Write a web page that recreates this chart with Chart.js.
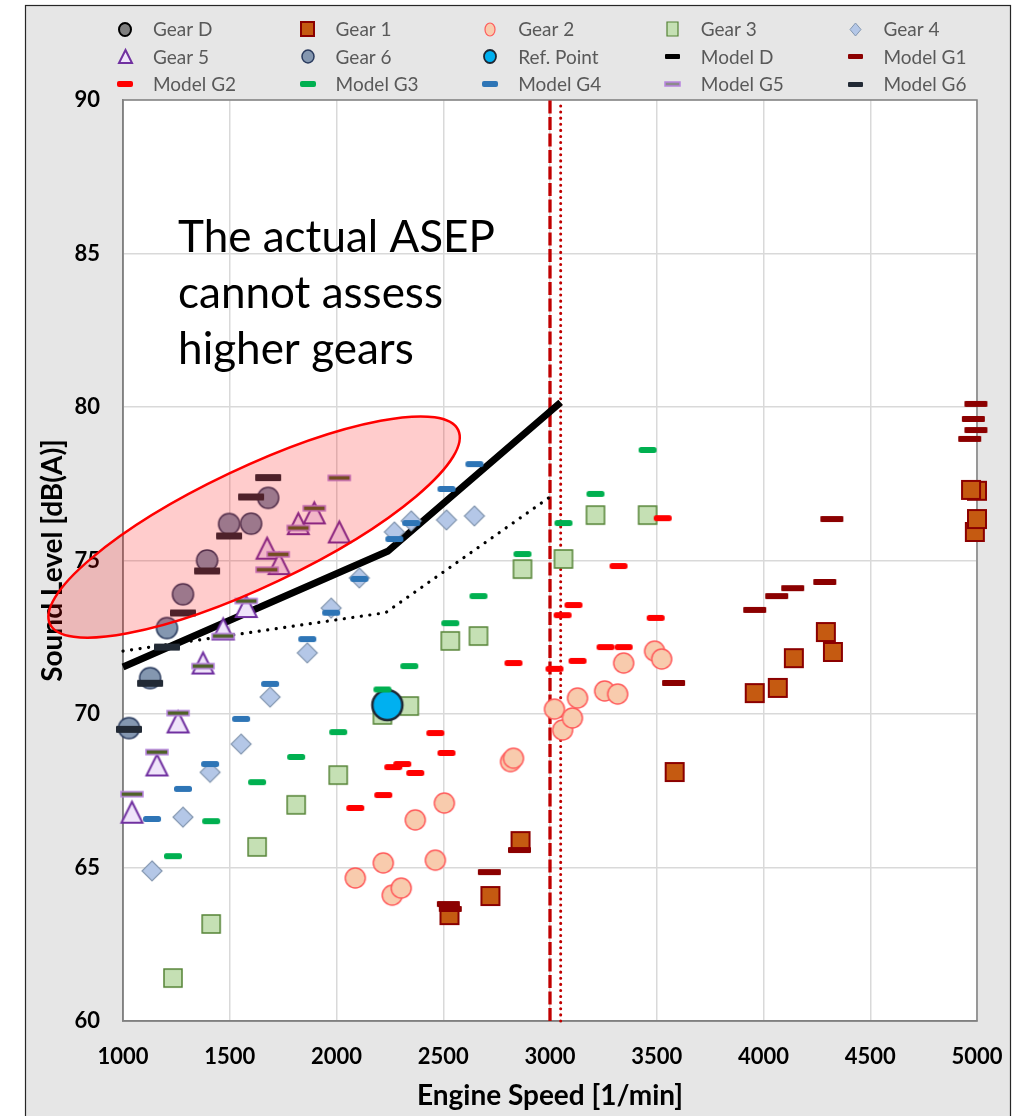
<!DOCTYPE html>
<html>
<head>
<meta charset="utf-8">
<script src="https://cdn.jsdelivr.net/npm/chart.js@4.4.1/dist/chart.umd.min.js"></script>
<style>
  html, body { margin: 0; padding: 0; background: #ffffff; }
  #wrap { width: 1017px; height: 1116px; }
</style>
</head>
<body>
<div id="wrap"><canvas id="chart" width="1017" height="1116"></canvas></div>
<script>
// ---------------- axis ranges ----------------
const rpmRange = [1000, 5000, 500];     // min, max, step
const levelRange = [60, 90, 5];

// ---------------- measured points [engine speed, sound level] ----------------
const gearD = [];
const gear1 = [[2529, 63.45], [2721, 64.07], [2862, 65.86], [3584, 68.11], [3959, 70.68], [4067, 70.85],
               [4142, 71.82], [4292, 72.67], [4325, 72.02], [5000, 77.27], [4972, 77.3], [4990, 75.93], [5000, 76.35]];
const gear2 = [[2088, 64.66], [2219, 65.15], [2261, 64.1], [2303, 64.33], [2369, 66.55], [2463, 65.24],
               [2505, 67.1], [2815, 68.45], [2829, 68.56], [3021, 70.16], [3059, 69.48], [3105, 69.87],
               [3129, 70.52], [3256, 70.75], [3317, 70.65], [3345, 71.66], [3490, 72.05], [3523, 71.79]];
const gear3 = [[1234, 61.4], [1413, 63.16], [1628, 65.67], [1811, 67.04], [2008, 68.01], [2215, 69.97],
               [2341, 70.26], [2533, 72.38], [2665, 72.54], [2871, 74.72], [3063, 75.05], [3213, 76.48], [3457, 76.48]];
const gear4 = [[1136, 64.89], [1281, 66.64], [1408, 68.1], [1553, 69.02], [1689, 70.55], [1863, 71.99],
               [1975, 73.45], [2107, 74.43], [2271, 75.93], [2350, 76.29], [2515, 76.32], [2646, 76.45]];
const gear5 = [[1042, 66.8], [1159, 68.34], [1258, 69.74], [1375, 71.66], [1469, 72.77], [1577, 73.5],
               [1675, 75.4], [1731, 74.9], [1821, 76.2], [1896, 76.55], [2013, 75.93]];
const gear6 = [[1028, 69.54], [1127, 71.17], [1206, 72.8], [1281, 73.9], [1394, 75.0], [1497, 76.19],
               [1600, 76.2], [1680, 77.04]];
const refPoint = [[2238, 70.29]];

// ---------------- model predictions [engine speed, sound level] ----------------
const modelD = [];
const modelG1 = [[2524, 63.81], [2533, 63.65], [2716, 64.85], [2857, 65.57], [3579, 71.01], [3959, 73.39],
                 [4062, 73.84], [4137, 74.1], [4287, 74.3], [4320, 76.35], [4995, 80.1], [4983, 79.61],
                 [4995, 79.25], [4966, 78.96]];
const modelG2 = [[2088, 66.94], [2219, 67.36], [2266, 68.27], [2308, 68.37], [2369, 68.08], [2463, 69.38],
                 [2515, 68.73], [2829, 71.66], [3021, 71.47], [3059, 73.22], [3110, 73.55], [3129, 71.73],
                 [3260, 72.18], [3345, 72.18], [3321, 74.82], [3495, 73.13], [3528, 76.38]];
const modelG3 = [[1234, 65.37], [1413, 66.51], [1628, 67.78], [1811, 68.6], [2008, 69.41], [2215, 70.8],
                 [2341, 71.56], [2533, 72.96], [2665, 73.84], [2871, 75.21], [3063, 76.22], [3213, 77.17], [3457, 78.6]];
const modelG4 = [[1136, 66.58], [1281, 67.56], [1408, 68.37], [1553, 69.84], [1689, 70.98], [1863, 72.44],
                 [1975, 73.3], [2107, 74.4], [2271, 75.7], [2350, 76.22], [2515, 77.33], [2646, 78.14]];
const modelG5 = [[1042, 67.39], [1159, 68.76], [1258, 70.03], [1375, 71.56], [1469, 72.54], [1577, 73.68],
                 [1675, 74.7], [1727, 75.2], [1821, 76.06], [1896, 76.7], [2013, 77.69]];
const modelG6 = [[1028, 69.5], [1127, 71.0], [1206, 72.18], [1281, 73.29], [1394, 74.66], [1497, 75.8],
                 [1600, 77.07], [1680, 77.7]];

// ---------------- limit curves ----------------
const upperLimit = [[1000, 71.53], [2240, 75.3], [3050, 80.15]];
const lowerLimit = [[1000, 72.05], [2230, 73.3], [3000, 77.07]];
const speedLimits = [3000, 3050];          // dashed, dotted

// ---------------- annotation ----------------
const noteLines = ['The actual ASEP', 'cannot assess', 'higher gears'];
const ellipseCentre = [1614, 76.09];

// ---------------- legend ----------------
const legendLabels = ['Gear D', 'Gear 1', 'Gear 2', 'Gear 3', 'Gear 4',
                      'Gear 5', 'Gear 6', 'Ref. Point', 'Model D', 'Model G1',
                      'Model G2', 'Model G3', 'Model G4', 'Model G5', 'Model G6'];

// ---------------- marker images ----------------
function marker(shape, w, h, fill, stroke, lw, radius) {
  const pad = Math.ceil(lw || 0) + 1;
  const c = document.createElement('canvas');
  c.width = Math.round(w + 2 * pad);
  c.height = Math.round(h + 2 * pad);
  const g = c.getContext('2d');
  const cx = c.width / 2, cy = c.height / 2;
  g.beginPath();
  if (shape === 'circle') {
    g.ellipse(cx, cy, w / 2, h / 2, 0, 0, Math.PI * 2);
  } else if (shape === 'square') {
    g.rect(cx - w / 2, cy - h / 2, w, h);
  } else if (shape === 'diamond') {
    g.moveTo(cx, cy - h / 2); g.lineTo(cx + w / 2, cy); g.lineTo(cx, cy + h / 2); g.lineTo(cx - w / 2, cy); g.closePath();
  } else if (shape === 'triangle') {
    g.moveTo(cx, cy - h / 2); g.lineTo(cx + w / 2, cy + h / 2); g.lineTo(cx - w / 2, cy + h / 2); g.closePath();
  } else if (shape === 'dash') {
    const r = radius || 0;
    g.roundRect(cx - w / 2, cy - h / 2, w, h, r);
  }
  if (fill) { g.fillStyle = fill; g.fill(); }
  if (stroke && lw) { g.lineWidth = lw; g.strokeStyle = stroke; g.lineJoin = 'miter'; g.stroke(); }
  return c;
}

const styles = {
  'Gear D':     { plot: marker('circle', 21, 21, '#7f7f7f', '#000000', 1.5),     key: marker('circle', 12, 13, '#7f7f7f', '#000000', 2) },
  'Gear 1':     { plot: marker('square', 18, 18, '#c55a11', '#8b0000', 2),       key: marker('square', 13, 14, '#c55a11', '#8b0000', 2) },
  'Gear 2':     { plot: marker('circle', 20, 20, '#f8cbad', '#ff5b5b', 1.5),     key: marker('circle', 10, 13, '#f8cbad', '#ff5b5b', 1.2) },
  'Gear 3':     { plot: marker('square', 18, 18, '#c5e0b4', '#548235', 1.5),     key: marker('square', 11, 14, '#c5e0b4', '#548235', 1.2) },
  'Gear 4':     { plot: marker('diamond', 20, 20, '#b4c7e7', '#8497b0', 1.2),    key: marker('diamond', 11, 13, '#b4c7e7', '#8497b0', 1) },
  'Gear 5':     { plot: marker('triangle', 21, 21, '#efe4fa', '#7030a0', 2),     key: marker('triangle', 13, 13, '#efe4fa', '#7030a0', 2) },
  'Gear 6':     { plot: marker('circle', 21, 21, '#8497b0', '#2a3b5e', 1.5),     key: marker('circle', 12, 13, '#8497b0', '#2a3b5e', 1.5) },
  'Ref. Point': { plot: marker('circle', 30, 30, '#00b0f0', '#1f2733', 2.5),     key: marker('circle', 12, 13, '#00b0f0', '#1f2733', 1.8) },
  'Model D':    { plot: marker('dash', 26, 7, '#000000', null, 0, 1),            key: marker('dash', 15, 5, '#000000', null, 0, 1) },
  'Model G1':   { plot: marker('dash', 23, 6, '#8b0000', null, 0, 1),            key: marker('dash', 15, 5, '#8b0000', null, 0, 1) },
  'Model G2':   { plot: marker('dash', 18, 6, '#ff0000', null, 0, 2.5),          key: marker('dash', 16, 6, '#ff0000', null, 0, 2) },
  'Model G3':   { plot: marker('dash', 18, 6, '#00b050', null, 0, 2.5),          key: marker('dash', 16, 6, '#00b050', null, 0, 2) },
  'Model G4':   { plot: marker('dash', 18, 6, '#2e75b6', null, 0, 2.5),          key: marker('dash', 16, 6, '#2e75b6', null, 0, 2) },
  'Model G5':   { plot: marker('dash', 22, 5, '#4f6228', '#b884e0', 1.5, 0),     key: marker('dash', 15, 4, '#8c8c8c', '#b884e0', 1.5, 0) },
  'Model G6':   { plot: marker('dash', 26, 7, '#222a35', null, 0, 1),            key: marker('dash', 15, 5, '#222a35', null, 0, 1) }
};

const toXY = arr => arr.map(p => ({ x: p[0], y: p[1] }));

function pointSet(label, pts, order) {
  return {
    label, data: toXY(pts), order, clip: false,
    showLine: false, pointStyle: styles[label].plot, pointRadius: 10, pointHoverRadius: 10
  };
}

function lineSet(label, pts, color, width, dash, cap, order) {
  return {
    label, data: toXY(pts), order, clip: false, showLine: true,
    borderColor: color, borderWidth: width, borderDash: dash, borderCapStyle: cap,
    borderJoinStyle: 'miter', pointRadius: 0, pointHoverRadius: 0, fill: false, tension: 0
  };
}

const datasets = [
  // model predictions on top
  pointSet('Model D', modelD, 1), pointSet('Model G1', modelG1, 1), pointSet('Model G2', modelG2, 1),
  pointSet('Model G3', modelG3, 1), pointSet('Model G4', modelG4, 1), pointSet('Model G5', modelG5, 1),
  pointSet('Model G6', modelG6, 1),
  pointSet('Ref. Point', refPoint, 3),
  pointSet('Gear D', gearD, 5), pointSet('Gear 1', gear1, 5), pointSet('Gear 2', gear2, 5),
  pointSet('Gear 3', gear3, 5), pointSet('Gear 4', gear4, 5), pointSet('Gear 5', gear5, 5),
  pointSet('Gear 6', gear6, 5),
  lineSet('limit', upperLimit, '#000000', 7, [], 'butt', 8),
  lineSet('limit lower', lowerLimit, '#000000', 3.2, [0.1, 8.5], 'round', 8),
  lineSet('speed limit', [[speedLimits[0], levelRange[0]], [speedLimits[0], levelRange[1]]], '#c00000', 3.3, [13, 3.5], 'butt', 9),
  lineSet('speed limit 2', [[speedLimits[1], levelRange[0]], [speedLimits[1], levelRange[1]]], '#c00000', 3, [0.1, 6], 'round', 9)
];

// ---------------- drawing helpers ----------------
const frame = { x: 25, y: 5, right: 1010 };

const backdrop = {
  id: 'backdrop',
  beforeDraw(chart) {
    const { ctx, width, height, chartArea: a } = chart;
    ctx.save();
    ctx.fillStyle = '#ffffff';
    ctx.fillRect(0, 0, width, height);
    ctx.fillStyle = '#e6e6e6';
    ctx.fillRect(frame.x, frame.y, frame.right - frame.x, height - frame.y + 2);
    ctx.strokeStyle = '#262626';
    ctx.lineWidth = 1.2;
    ctx.strokeRect(frame.x + 0.5, frame.y + 0.5, frame.right - frame.x, height);
    ctx.fillStyle = '#ffffff';
    ctx.fillRect(a.left, a.top, a.right - a.left, a.bottom - a.top);
    ctx.restore();
  },
  beforeDatasetsDraw(chart) {
    const { ctx, chartArea: a } = chart;
    ctx.save();
    ctx.strokeStyle = '#808080';
    ctx.lineWidth = 1.5;
    ctx.strokeRect(a.left, a.top, a.right - a.left, a.bottom - a.top);
    ctx.restore();
  }
};

const highlight = {
  id: 'highlight',
  afterDatasetsDraw(chart) {
    const { ctx, scales: { x, y } } = chart;
    const cx = x.getPixelForValue(ellipseCentre[0]);
    const cy = y.getPixelForValue(ellipseCentre[1]);
    ctx.save();
    ctx.beginPath();
    ctx.ellipse(cx, cy, 226, 59, -25.4 * Math.PI / 180, 0, Math.PI * 2);
    ctx.fillStyle = 'rgba(255, 0, 0, 0.2)';
    ctx.fill();
    ctx.lineWidth = 2.5;
    ctx.strokeStyle = '#ff0000';
    ctx.stroke();

    // note text
    ctx.fillStyle = '#000000';
    ctx.font = '44px Lato';
    ctx.textBaseline = 'alphabetic';
    ctx.textAlign = 'left';
    const tx = x.getPixelForValue(1258);
    const ty = y.getPixelForValue(85.05);
    noteLines.forEach((t, i) => ctx.fillText(t, tx, ty + i * 56));
    ctx.restore();
  }
};

const gridLegend = {
  id: 'gridLegend',
  afterDraw(chart) {
    const { ctx } = chart;
    ctx.save();
    ctx.font = '19px Lato';
    ctx.fillStyle = '#595959';
    ctx.textBaseline = 'middle';
    ctx.textAlign = 'left';
    legendLabels.forEach((label, i) => {
      const col = i % 5, row = Math.floor(i / 5);
      const tx = 153 + col * 182.6;
      const ty = 29 + row * 27.6;
      const img = styles[label].key;
      ctx.drawImage(img, Math.round(tx - 28 - img.width / 2), Math.round(ty - img.height / 2));
      ctx.fillText(label, tx, ty + 1);
    });
    ctx.restore();
  }
};

Chart.defaults.font.family = 'Lato';

new Chart(document.getElementById('chart'), {
  type: 'scatter',
  data: { datasets },
  options: {
    responsive: false,
    animation: false,
    events: [],
    layout: { padding: { top: 100, right: 40, left: 0, bottom: 0 } },
    plugins: { legend: { display: false }, tooltip: { enabled: false } },
    scales: {
      x: {
        type: 'linear', min: rpmRange[0], max: rpmRange[1],
        ticks: { stepSize: rpmRange[2], color: '#000000', padding: 23, font: { size: 22, weight: 'bold' },
                 callback: v => String(v) },
        grid: { color: '#d9d9d9', lineWidth: 1.5, drawTicks: false },
        border: { display: true, color: '#808080', width: 1.5 },
        title: { display: true, text: 'Engine Speed [1/min]', color: '#000000',
                 font: { size: 28, weight: 'bold' }, padding: { top: 0, bottom: 3 } },
        afterFit(scale) { scale.height = 95; scale.paddingLeft = 0; scale.paddingRight = 0; }
      },
      y: {
        type: 'linear', min: levelRange[0], max: levelRange[1],
        ticks: { stepSize: levelRange[2], color: '#000000', padding: 23, font: { size: 22, weight: 'bold' },
                 callback: v => String(v) },
        grid: { color: '#d9d9d9', lineWidth: 1.5, drawTicks: false },
        border: { display: true, color: '#808080', width: 1.5 },
        title: { display: true, text: 'Sound Level [dB(A)]', color: '#000000',
                 font: { size: 28, weight: 'bold' }, padding: { top: 36, bottom: 0 } },
        afterFit(scale) { scale.width = 123; scale.paddingTop = 0; scale.paddingBottom = 0; }
      }
    }
  },
  plugins: [backdrop, highlight, gridLegend]
});
</script>
</body>
</html>
